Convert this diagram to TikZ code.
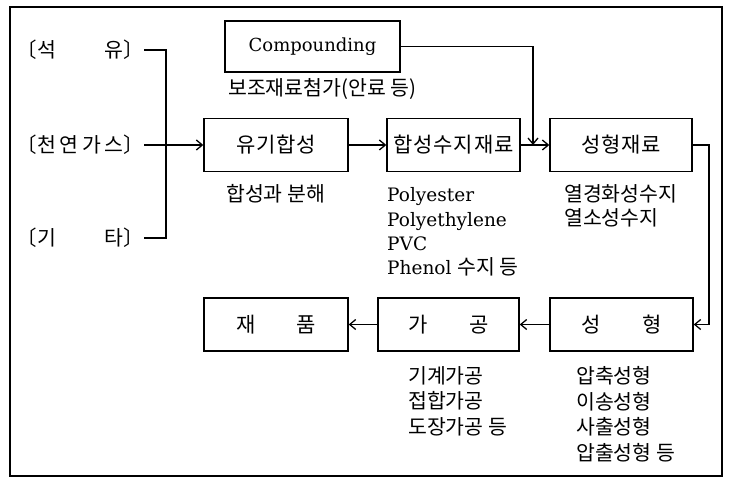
\documentclass[tikz,border=0pt]{standalone}
\usepackage{fontspec}
\newfontfamily\kr{Noto Sans CJK KR}
\newfontfamily\krsp[LetterSpace=4]{Noto Sans CJK KR}
\newfontfamily\lat{DejaVu Serif}
\usetikzlibrary{arrows.meta}
\begin{document}
\begin{tikzpicture}[x=1pt,y=-1pt,
  box/.style={draw, line width=1.4pt, minimum height=53pt, inner sep=0pt, font=\krsp\fontsize{21}{24}\selectfont},
  txt/.style={inner sep=0pt, font=\kr\fontsize{20.5}{24}\selectfont},
  ltxt/.style={inner sep=0pt, align=left, font=\lat\fontsize{18.5}{24.3}\selectfont},
  conn/.style={line width=1.3pt},
  arr/.style={line width=1.3pt, -{Straight Barb[length=6pt,width=10pt,line width=1.3pt]}},
  frame/.style={line width=1.4pt}]
\useasboundingbox (0,0) rectangle (730,478);
\draw[frame] (10,7) rectangle (722,476);

% top row
\node[box, minimum width=175pt, minimum height=51pt, font=\lat\fontsize{18}{24}\selectfont] (comp) at (312.5,46.5) {Compounding};
\node[txt, anchor=west] (compnote) at (228,89) {보조재료첨가(안료 등)};
\node[box, minimum width=144pt] (yugi) at (276,145) {유기합성};
\node[box, minimum width=133pt] (hap) at (453.5,145) {합성수지재료};
\node[box, minimum width=142pt] (sjr) at (621,145) {성형재료};

% bottom row
\node[box, minimum width=144pt] (jepum) at (276,324.5) {\makebox[3.8em][s]{재\hfill 품}};
\node[box, minimum width=141pt] (gagong) at (448.5,324.5) {\makebox[3.8em][s]{가\hfill 공}};
\node[box, minimum width=143pt] (sh) at (621.5,324.5) {\makebox[3.8em][s]{성\hfill 형}};

% left sources
\node[txt, anchor=east] (seok) at (144,50) {〔\makebox[4.2em][s]{석\hfill 유}〕};
\node[txt, anchor=east] (cheon) at (144,145) {〔\makebox[4.2em][s]{천\hfill 연\hfill 가\hfill 스}〕};
\node[txt, anchor=east] (gita) at (144,238) {〔\makebox[4.2em][s]{기\hfill 타}〕};

% notes
\node[txt, anchor=west] (bunhae) at (226,194) {합성과 분해};
\node[ltxt, anchor=north west] (poly) at (387,187.5) {Polyester\\Polyethylene\\PVC\\Phenol {\kr\fontsize{20.5}{24}\selectfont 수지 등}};
\node[txt, anchor=north west, align=left, font=\kr\fontsize{20.5}{24}\selectfont] (yeol) at (564,184) {열경화성수지\\열소성수지};
\node[txt, anchor=north west, align=left, font=\kr\fontsize{20.5}{25.6}\selectfont] (gigye) at (408,366) {기계가공\\접합가공\\도장가공 등};
\node[txt, anchor=north west, align=left, font=\kr\fontsize{20.5}{25.7}\selectfont] (apchuk) at (576,366) {압축성형\\이송성형\\사출성형\\압출성형 등};

% connectors
\coordinate (jn) at (166,145);
\draw[conn] (seok.east) -| (jn) |- (gita.east);
\draw[arr] (cheon.east) -- (yugi.west);
\draw[arr] (yugi.east) -- (hap.west);
\draw[arr] (hap.east) -- (sjr.west);
\coordinate (m) at (533,145);
\draw[arr] (comp.east) -| (m);
\coordinate (r) at (709,145);
\draw[arr] (sjr.east) -- (r) |- (sh.east);
\draw[arr] (sh.west) -- (gagong.east);
\draw[arr] (gagong.west) -- (jepum.east);
\end{tikzpicture}
\end{document}
